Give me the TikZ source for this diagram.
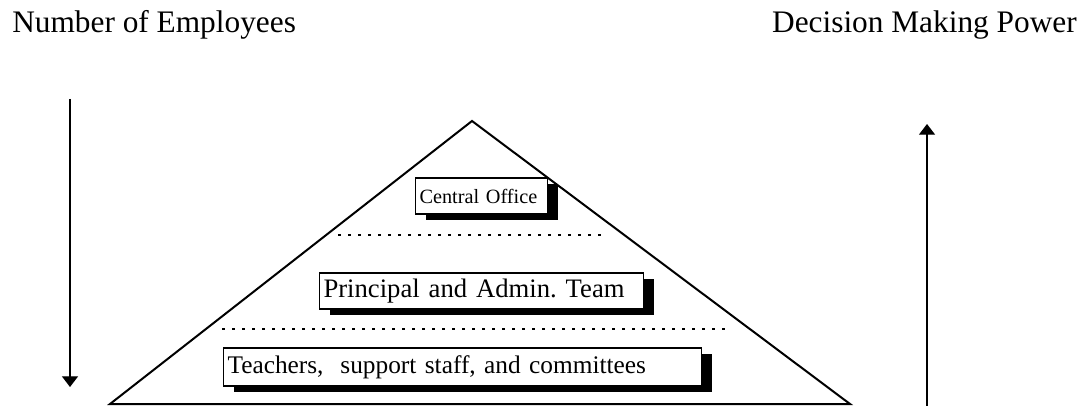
\documentclass[tikz,border=0pt]{standalone}
\usepackage{fontspec}
\setmainfont{Liberation Serif}
\usepackage{tikz}
\usetikzlibrary{arrows.meta,positioning,shadows}
\tikzset{
  level/.style={draw, line width=0.8pt, fill=white, anchor=west, align=left, inner xsep=3pt, inner ysep=0pt,
    drop shadow={shadow xshift=7.5pt, shadow yshift=-4.5pt, fill=black, opacity=1}},
  divider/.style={line width=1pt, dash pattern=on 2.3pt off 5.2pt},
  pyramid/.style={line width=1.5pt, line join=miter},
  axis/.style={line width=0.9pt, -{Triangle[width=12pt,length=8pt]}},
  heading/.style={font=\fontsize{23.5}{27}\selectfont, inner sep=0pt},
}
\frenchspacing

\begin{document}
\begin{tikzpicture}[x=0.75pt,y=-0.75pt]
  \useasboundingbox (0,0) rectangle (1084,406);
  \node[heading, anchor=base west] (emp) at (12,33) {Number of Employees};
  \node[heading, anchor=base east] (pwr) at (1077,33) {Decision Making Power};
  % pyramid
  \coordinate (top) at (472,121);
  \coordinate (bl) at (110,404);
  \coordinate (br) at (850,404);
  \draw[pyramid] (top) -- (br) -- (bl) -- cycle;
  \draw[divider] (338,235) -- (605,235);
  \draw[divider] (222,329) -- (730,329);
  \node[level, text width=93pt, minimum height=27pt, font=\fontsize{15.2}{18}\selectfont] (central) at (415,196) {Central Office};
  \node[level, text width=237pt, minimum height=27pt, font=\fontsize{20}{24}\selectfont] (principal) at (319,291) {Principal and Admin. Team};
  \node[level, text width=352.5pt, minimum height=28.5pt, font=\fontsize{19}{23}\selectfont] (teachers) at (223,367) {Teachers,\ \ support staff, and committees};
  % side arrows
  \coordinate (empStart) at (70,99);
  \coordinate (empEnd) at (70,387);
  \coordinate (pwrStart) at (927,406);
  \coordinate (pwrEnd) at (927,124);
  \draw[axis] (empStart) -- (empEnd);
  \draw[axis] (pwrStart) -- (pwrEnd);
\end{tikzpicture}
\end{document}
